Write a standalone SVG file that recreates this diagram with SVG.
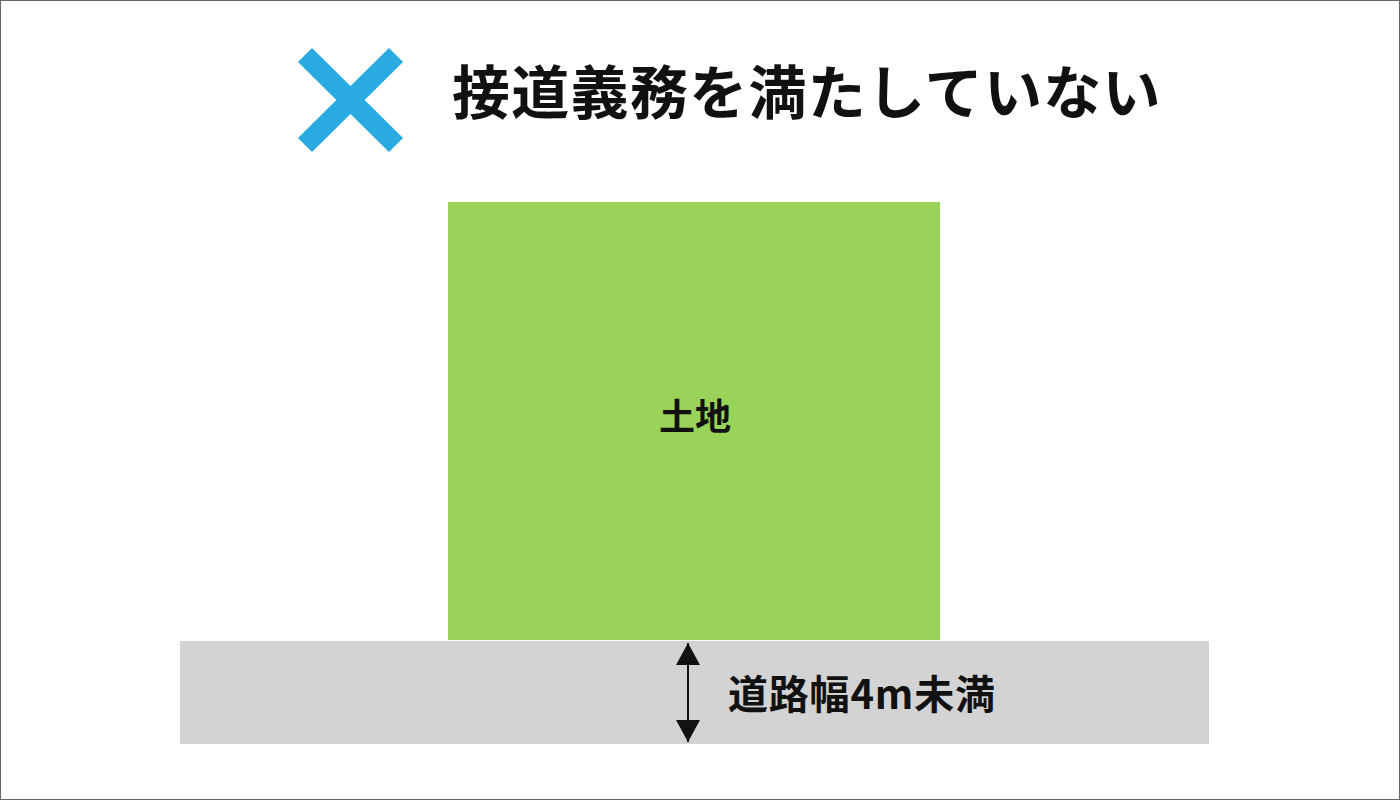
<svg xmlns="http://www.w3.org/2000/svg" width="1400" height="800" viewBox="0 0 1400 800">
<style>
.t{font-family:"Noto Sans CJK JP","Noto Sans",sans-serif;font-weight:bold;fill:#111}
</style>
<defs>
<marker id="ah" viewBox="0 0 22 24" refX="22" refY="12" markerWidth="22" markerHeight="24" markerUnits="userSpaceOnUse" orient="auto-start-reverse">
<path d="M0,0 L22,12 L0,24 Z" fill="#111"/>
</marker>
</defs>
<rect x="0.5" y="0.5" width="1399" height="799" fill="#fff" stroke="#666" stroke-width="1"/>
<g id="mark">
<path d="M305,55 L396,145 M396,55 L305,145" stroke="#29abe2" stroke-width="20" stroke-linecap="butt"/>
</g>
<g id="title"><text class="t" x="452" y="114" font-size="58" letter-spacing="1.3">接道義務を満たしていない</text></g>
<g id="land">
<rect x="448" y="202" width="492" height="438" fill="#99d35a"/>
<text class="t" x="695" y="430" font-size="36" text-anchor="middle">土地</text>
</g>
<g id="road">
<rect x="180" y="641" width="1029" height="103" fill="#d3d3d3"/>
<text class="t" x="728" y="709" font-size="40" letter-spacing="0.8">道路幅4m未満</text>
</g>
<g id="connectors">
<line x1="688" y1="643" x2="688" y2="742" stroke="#111" stroke-width="2" marker-start="url(#ah)" marker-end="url(#ah)"/>
</g>
</svg>
